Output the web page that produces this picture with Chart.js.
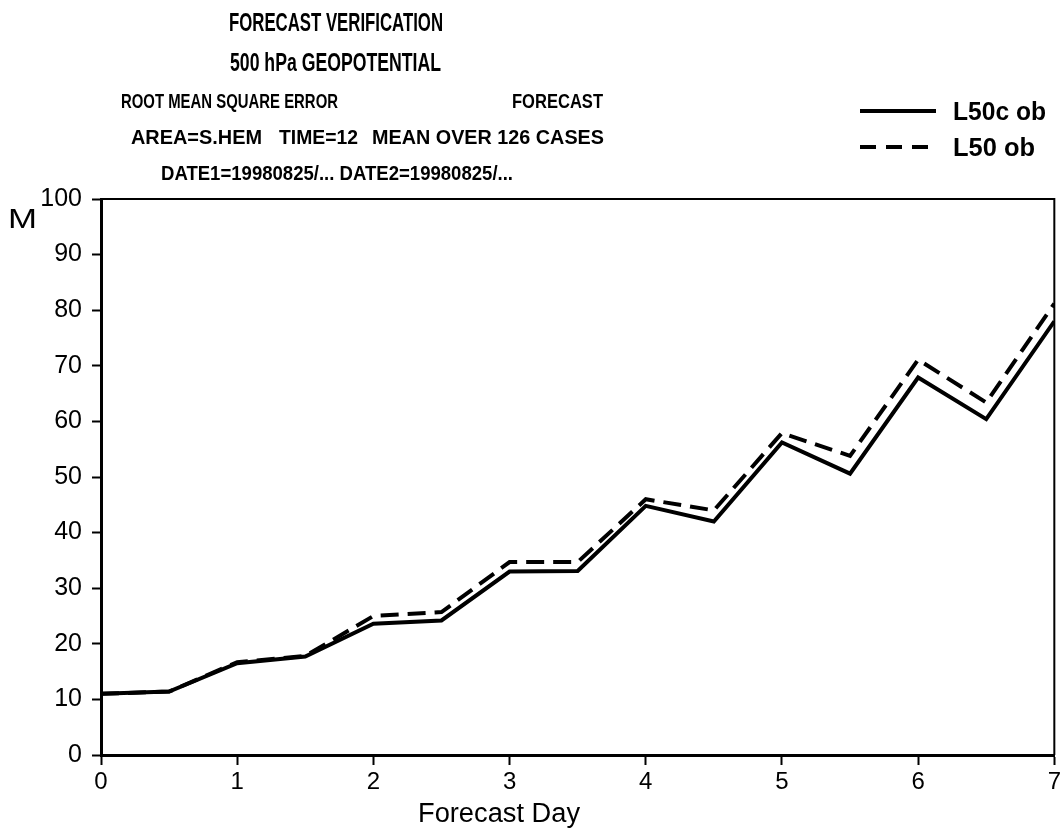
<!DOCTYPE html>
<html>
<head>
<meta charset="utf-8">
<title>Forecast verification - 500 hPa geopotential</title>
<script src="https://cdn.jsdelivr.net/npm/chart.js@4.4.1/dist/chart.umd.min.js"></script>
<style>
  html, body { margin: 0; padding: 0; background: #fff; }
  #chart { display: block; }
</style>
</head>
<body>
<canvas id="chart" width="1064" height="830"></canvas>
<script>
// forecast days (every 12 h)
const forecastDays = [0, 0.5, 1, 1.5, 2, 2.5, 3, 3.5, 4, 4.5, 5, 5.5, 6, 6.5, 7];

// RMSE of 500 hPa geopotential (m)
const rmseL50c = [11.0, 11.4, 16.5, 17.7, 23.6, 24.2, 33.0, 33.1, 44.8, 42.0, 56.2, 50.6, 67.9, 60.4, 78.0];
const rmseL50 = [11.0, 11.4, 16.7, 17.8, 25.0, 25.7, 34.7, 34.7, 46.0, 44.0, 57.9, 53.8, 71.1, 63.4, 81.2];

const nomesSeries = ['L50c ob', 'L50 ob'];

const yTicks = [0, 10, 20, 30, 40, 50, 60, 70, 80, 90, 100];
const xTicks = [0, 1, 2, 3, 4, 5, 6, 7];

const fonteBase = '"Liberation Sans", Arial, Helvetica, sans-serif';

function pontos(valores) {
    return forecastDays.map((d, i) => ({ x: d, y: valores[i] }));
}

// header lines: [text, left x, baseline, width, size]
const cabecalho = [
    ['FORECAST VERIFICATION', 229, 31, 214, 26],
    ['500 hPa GEOPOTENTIAL', 230, 71, 211, 26],
    ['ROOT MEAN SQUARE ERROR', 121, 108, 217, 20],
    ['FORECAST', 512, 108, 91, 20],
    ['AREA=S.HEM', 131, 144, 131, 20],
    ['TIME=12', 279, 144, 79, 20],
    ['MEAN OVER 126 CASES', 372, 144, 232, 20],
    ['DATE1=19980825/... DATE2=19980825/...', 161, 180, 352, 20]
];

// draws text squeezed or stretched to an exact width
function textoAjustado(ctx, texto, x, y, largura) {
    const w = ctx.measureText(texto).width;
    ctx.save();
    ctx.translate(x, y);
    ctx.scale(largura / w, 1);
    ctx.fillText(texto, 0, 0);
    ctx.restore();
}

const pluginMoldura = {
    id: 'moldura',
    afterDraw(chart) {
        const ctx = chart.ctx;
        const area = chart.chartArea;
        ctx.save();

        // top and right edges of the frame
        ctx.strokeStyle = '#000';
        ctx.lineWidth = 2;
        ctx.beginPath();
        ctx.moveTo(area.left, area.top);
        ctx.lineTo(area.right, area.top);
        ctx.lineTo(area.right, area.bottom);
        ctx.stroke();

        ctx.fillStyle = '#000';
        ctx.textBaseline = 'alphabetic';
        ctx.textAlign = 'left';
        cabecalho.forEach(([texto, x, y, largura, tam]) => {
            ctx.font = `bold ${tam}px ${fonteBase}`;
            textoAjustado(ctx, texto, x, y, largura);
        });

        // unit label and x axis title
        ctx.font = `28px ${fonteBase}`;
        textoAjustado(ctx, 'M', 8, 228, 29);
        ctx.font = `27px ${fonteBase}`;
        textoAjustado(ctx, 'Forecast Day', 418, 822, 162);

        // legend
        const legenda = [
            { y: 111, dash: [] },
            { y: 147, dash: [16, 10] }
        ];
        const larguras = [93, 82];
        legenda.forEach((item, i) => {
            ctx.setLineDash(item.dash);
            ctx.lineWidth = 4;
            ctx.beginPath();
            ctx.moveTo(860, item.y);
            ctx.lineTo(936, item.y);
            ctx.stroke();
            ctx.setLineDash([]);
            ctx.font = `bold 25px ${fonteBase}`;
            textoAjustado(ctx, nomesSeries[i], 953, item.y + 9, larguras[i]);
        });

        ctx.restore();
    }
};

const ctxGrafico = document.getElementById('chart').getContext('2d');

const grafico = new Chart(ctxGrafico, {
    type: 'line',
    data: {
        datasets: [{
            label: nomesSeries[0],
            data: pontos(rmseL50c),
            borderColor: '#000',
            borderWidth: 4,
            pointRadius: 0,
            tension: 0,
            fill: false
        }, {
            label: nomesSeries[1],
            data: pontos(rmseL50),
            borderColor: '#000',
            borderWidth: 4,
            borderDash: [18, 9],
            pointRadius: 0,
            tension: 0,
            fill: false
        }]
    },
    options: {
        responsive: false,
        animation: false,
        layout: {
            padding: { top: 199, right: 6, left: 0, bottom: 0 }
        },
        scales: {
            x: {
                type: 'linear',
                min: 0,
                max: 7,
                afterBuildTicks: s => { s.ticks = xTicks.map(v => ({ value: v })); },
                afterFit: s => { s.height = 75; },
                ticks: {
                    color: '#000',
                    font: { family: fonteBase, size: 24 },
                    padding: 3,
                    maxRotation: 0
                },
                grid: {
                    drawOnChartArea: false,
                    drawTicks: true,
                    tickLength: 10,
                    tickWidth: 2,
                    color: '#000'
                },
                border: { display: true, width: 3, color: '#000' }
            },
            y: {
                min: 0,
                max: 100,
                afterBuildTicks: s => { s.ticks = yTicks.map(v => ({ value: v })); },
                afterFit: s => { s.width = 101; },
                ticks: {
                    color: '#000',
                    font: { family: fonteBase, size: 25 },
                    padding: 10
                },
                grid: {
                    drawOnChartArea: false,
                    drawTicks: true,
                    tickLength: 9,
                    tickWidth: 2,
                    color: '#000'
                },
                border: { display: true, width: 3, color: '#000' }
            }
        },
        plugins: {
            legend: { display: false },
            tooltip: { enabled: false }
        }
    },
    plugins: [pluginMoldura]
});
</script>
</body>
</html>
